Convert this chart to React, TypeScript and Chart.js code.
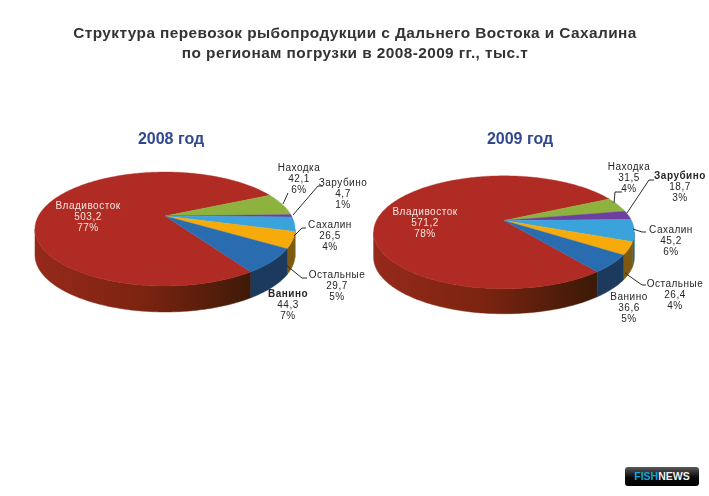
import React, { useEffect, useRef } from "react";
import { Chart, registerables } from "chart.js";

Chart.register(...registerables);

const categories = ["Владивосток", "Находка", "Зарубино", "Сахалин", "Остальные", "Ванино"];
const values2008 = [503.2, 42.1, 4.7, 26.5, 29.7, 44.3];
const values2009 = [571.2, 31.5, 18.7, 45.2, 26.4, 36.6];
const percents2008 = [77, 6, 1, 4, 5, 7];
const percents2009 = [78, 4, 3, 6, 4, 5];
const sliceColors = ["#b02b23", "#8db33e", "#6d3f9e", "#3aa3dc", "#f6ab0b", "#2a6cb0"];
const sideColors = ["#7d2412", "#5c7a28", "#43265f", "#1f6a94", "#7d5a10", "#1b3a5e"];

const mainTitle = [
  "Структура перевозок рыбопродукции с Дальнего Востока и Сахалина",
  "по регионам погрузки в 2008-2009 гг., тыс.т",
];

type Geo = {
  left: number; width: number;
  ax: number; ay: number; A: number; B: number; k: number; depth: number;
  rotation: number;
  labels: { x: number; y: number; bold?: boolean; white?: boolean }[];
  leaders: number[][][];
};

const geo2008: Geo = {
  left: -30, width: 402,
  ax: 165, ay: 216, A: 54, B: 126.6, k: -0.228, depth: 26,
  rotation: 146.7,
  labels: [
    { x: 88, y: 206, white: true },
    { x: 299, y: 168 },
    { x: 343, y: 183 },
    { x: 330, y: 225 },
    { x: 337, y: 275 },
    { x: 288, y: 294, bold: true },
  ],
  leaders: [
    [[283, 204], [288, 193]],
    [[293, 215], [318, 186], [323, 186]],
    [[294, 236], [302, 228], [306, 228]],
    [[286, 265], [302, 278], [307, 278]],
  ],
};

const geo2009: Geo = {
  left: 333, width: 374,
  ax: 504, ay: 220.5, A: 54, B: 127.5, k: -0.209, depth: 25,
  rotation: 142.4,
  labels: [
    { x: 425, y: 212, white: true },
    { x: 629, y: 167 },
    { x: 680, y: 176, bold: true },
    { x: 671, y: 230 },
    { x: 675, y: 284 },
    { x: 629, y: 297 },
  ],
  leaders: [
    [[614, 203], [615, 192], [622, 192]],
    [[627, 213], [649, 180], [654, 180]],
    [[633, 229], [642, 232], [646, 232]],
    [[625, 273], [642, 285], [646, 285]],
  ],
};

function makePlugin(geo: Geo, percents: number[], values: number[]) {
  const project = (t: number, ctxLeft: number) => {
    const u = Math.cos(t), v = Math.sin(t);
    const w = 1 + geo.k * v;
    return [geo.ax - ctxLeft + (geo.B * u) / w, geo.ay + (geo.A * v) / w];
  };
  const lo = Math.asin(-geo.k);
  const hi = Math.PI - lo;
  return {
    id: "perspectivePie",
    beforeDatasetsDraw(chart: any) {
      const ctx: CanvasRenderingContext2D = chart.ctx;
      const L = geo.left;
      const arcs = chart.getDatasetMeta(0).data;
      ctx.save();
      const two = Math.PI * 2;
      arcs.forEach((arc: any, i: number) => {
        for (const shift of [-two, 0, two]) {
          const s = Math.max(arc.startAngle + shift, lo);
          const e = Math.min(arc.endAngle + shift, hi);
          if (e <= s) continue;
          const n = Math.max(4, Math.ceil((e - s) * 60));
          const top: number[][] = [];
          for (let j = 0; j <= n; j++) top.push(project(s + ((e - s) * j) / n, L));
          ctx.beginPath();
          top.forEach((p, j) => (j ? ctx.lineTo(p[0], p[1]) : ctx.moveTo(p[0], p[1])));
          for (let j = n; j >= 0; j--) ctx.lineTo(top[j][0], top[j][1] + geo.depth);
          ctx.closePath();
          let fill: any = sideColors[i];
          if (i === 0) {
            const g = ctx.createLinearGradient(geo.ax - L - 131, 0, geo.ax - L + 85, 0);
            g.addColorStop(0, "#96291b");
            g.addColorStop(0.5, "#7c2410");
            g.addColorStop(1, "#3f1a08");
            fill = g;
          }
          ctx.fillStyle = fill;
          ctx.strokeStyle = fill;
          ctx.lineWidth = 0.5;
          ctx.fill();
          ctx.stroke();
        }
      });
      arcs.forEach((arc: any, i: number) => {
        const s = arc.startAngle, e = arc.endAngle;
        const n = Math.max(6, Math.ceil((e - s) * 60));
        ctx.beginPath();
        ctx.moveTo(geo.ax - L, geo.ay);
        for (let j = 0; j <= n; j++) {
          const p = project(s + ((e - s) * j) / n, L);
          ctx.lineTo(p[0], p[1]);
        }
        ctx.closePath();
        ctx.fillStyle = sliceColors[i];
        ctx.strokeStyle = sliceColors[i];
        ctx.lineWidth = 0.4;
        ctx.fill();
        ctx.stroke();
      });
      ctx.strokeStyle = "#2b2b2b";
      ctx.lineWidth = 1;
      geo.leaders.forEach((line) => {
        ctx.beginPath();
        line.forEach((p, j) => (j ? ctx.lineTo(p[0] - L, p[1]) : ctx.moveTo(p[0] - L, p[1])));
        ctx.stroke();
      });
      ctx.textAlign = "center";
      ctx.textBaseline = "middle";
      (ctx as any).letterSpacing = "0.5px";
      categories.forEach((c, i) => {
        const lab = geo.labels[i];
        ctx.fillStyle = lab.white ? "#f4e6e2" : "#262626";
        const lines = [c, String(values[i]).replace(".", ","), `${percents[i]}%`];
        lines.forEach((t, j) => {
          ctx.font = `${lab.bold && j === 0 ? "bold " : ""}10px "Liberation Sans"`;
          ctx.fillText(t, lab.x - L, lab.y + j * 11.2);
        });
      });
      ctx.restore();
      return false;
    },
  };
}

function Pie({ geo, title, values, percents }: { geo: Geo; title: string; values: number[]; percents: number[] }) {
  const ref = useRef<HTMLCanvasElement>(null);
  useEffect(() => {
    const chart = new Chart(ref.current!, {
      type: "pie",
      data: {
        labels: categories,
        datasets: [{ data: values, backgroundColor: sliceColors, borderWidth: 0 }],
      },
      options: {
        responsive: false,
        animation: false,
        rotation: geo.rotation,
        layout: { padding: 0 },
        plugins: {
          legend: { display: false },
          tooltip: { enabled: false },
          title: {
            display: true,
            text: title,
            color: "#30488f",
            font: { family: '"Liberation Sans"', size: 16, weight: "bold" },
            padding: { top: 130, bottom: 10 },
          },
        },
      },
      plugins: [makePlugin(geo, percents, values) as any],
    } as any);
    return () => chart.destroy();
  }, []);
  return (
    <canvas
      ref={ref}
      width={geo.width}
      height={400}
      style={{ position: "absolute", left: geo.left, top: 0, width: geo.width, height: 400, filter: "blur(0.35px)" }}
    />
  );
}

export default function App() {
  return (
    <div
      style={{
        position: "fixed", left: 0, top: 0, width: 709, height: 496,
        background: "#fff", overflow: "hidden",
      }}
    >
      {mainTitle.map((t, i) => (
        <div
          key={i}
          style={{
            position: "absolute", left: 0, width: 710, top: 24 + i * 20, textAlign: "center",
            boxSizing: "border-box",
            font: 'bold 15.4px "Liberation Sans"', lineHeight: "17px", color: "#333333",
            letterSpacing: "0.42px", whiteSpace: "nowrap", filter: "blur(0.3px)",
          }}
        >
          {t}
        </div>
      ))}
      <Pie geo={geo2008} title="2008 год" values={values2008} percents={percents2008} />
      <Pie geo={geo2009} title="2009 год" values={values2009} percents={percents2009} />
      <div
        style={{
          position: "absolute", left: 625, top: 467, width: 74, height: 19, borderRadius: 3,
          background: "linear-gradient(#5a5a5a, #0a0a0a 55%, #000)", textAlign: "center",
          font: 'bold 10.5px "Liberation Sans"', lineHeight: "19px",
        }}
      >
        <span style={{ color: "#12a5dc" }}>FISH</span>
        <span style={{ color: "#f0f0f0" }}>NEWS</span>
      </div>
    </div>
  );
}
